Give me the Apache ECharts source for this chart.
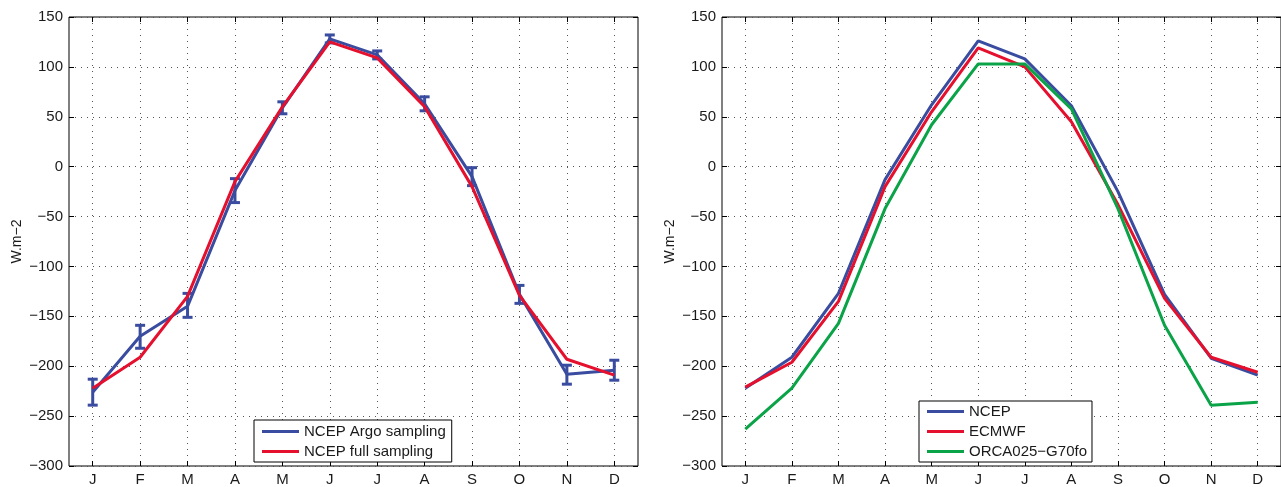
<!DOCTYPE html>
<html>
<head>
<meta charset="utf-8">
<script src="https://cdn.jsdelivr.net/npm/echarts@6/dist/echarts.min.js"></script>
<style>
html,body{margin:0;padding:0;background:#fff;}
#chart{width:1281px;height:487px;}
</style>
</head>
<body>
<div id="chart"></div>
<script>
// ---- data ----
const months = ['J','F','M','A','M','J','J','A','S','O','N','D'];
const yTicks = [-300, -250, -200, -150, -100, -50, 0, 50, 100, 150];

// left panel
const argoVal  = [-226, -170, -140, -24, 59, 128, 112, 63, -10, -128, -208, -204];
const argoLow  = [-239, -182, -151, -36, 53, 124, 108, 56, -19, -137, -218, -214];
const argoHigh = [-213, -159, -127, -12, 65, 132, 116, 70, -1, -119, -199, -194];
const fullVal  = [-222, -191, -130, -15, 60, 125, 109, 60, -20, -129, -193, -209];

// right panel
const ncepVal  = [-222, -191, -127, -13, 62, 126, 108, 61, -25, -128, -192, -209];
const ecmwfVal = [-221, -196, -135, -20, 55, 119, 100, 45, -38, -132, -191, -206];
const orcaVal  = [-263, -222, -157, -42, 42, 103, 103, 58, -42, -159, -239, -236];

const names = {
  argo: 'NCEP Argo sampling',
  full: 'NCEP full sampling',
  ncep: 'NCEP',
  ecmwf: 'ECMWF',
  orca: 'ORCA025\u2212G70fo'
};

// ---- styling ----
const BLUE = '#3a4c9f', RED = '#e5102d', GREEN = '#0aa347';
const FONT = 'Liberation Sans, Arial, Helvetica, sans-serif';
const TXT = '#1a1a1a';
const yMin = yTicks[0], yMax = yTicks[yTicks.length - 1], yStep = yTicks[1] - yTicks[0];

const dotted = {show: true, lineStyle: {color: '#555', width: 1, type: [1, 5]}};

function xAxes(gridIndex) {
  return [
    {
      type: 'category', gridIndex, position: 'bottom', data: months, boundaryGap: true,
      axisLine: {show: false, onZero: false},
      axisTick: {show: true, inside: true, length: 5, alignWithLabel: true, lineStyle: {color: '#000'}},
      axisLabel: {color: TXT, fontFamily: FONT, fontSize: 15, margin: 6, interval: 0},
      splitLine: Object.assign({alignWithLabel: true, interval: 0}, dotted)
    },
    {
      type: 'category', gridIndex, position: 'top', data: months, boundaryGap: true,
      axisLine: {show: false, onZero: false},
      axisTick: {show: true, inside: true, length: 5, alignWithLabel: true, lineStyle: {color: '#000'}},
      axisLabel: {show: false},
      splitLine: {show: false}
    }
  ];
}
function yAxes(gridIndex) {
  return [
    {
      type: 'value', gridIndex, position: 'left', min: yMin, max: yMax, interval: yStep,
      name: 'W.m\u22122', nameLocation: 'middle', nameGap: 45,
      nameTextStyle: {color: TXT, fontFamily: FONT, fontSize: 14},
      axisLine: {show: false, onZero: false},
      axisTick: {show: true, inside: true, length: 5, lineStyle: {color: '#000'}},
      axisLabel: {color: TXT, fontFamily: FONT, fontSize: 15, margin: 6,
        formatter: v => String(v).replace('-', '\u2212')},
      splitLine: dotted
    },
    {
      type: 'value', gridIndex, position: 'right', min: yMin, max: yMax, interval: yStep,
      axisLine: {show: false, onZero: false},
      axisTick: {show: true, inside: true, length: 5, lineStyle: {color: '#000'}},
      axisLabel: {show: false},
      splitLine: {show: false}
    }
  ];
}

function lineSeries(name, data, color, xi, yi, z) {
  return {
    type: 'line', name, data, xAxisIndex: xi, yAxisIndex: yi,
    showSymbol: false, symbol: 'none', z,
    lineStyle: {color, width: 3}, itemStyle: {color},
    animation: false
  };
}

const errData = months.map((m, i) => [i, argoLow[i], argoHigh[i]]);

const legendCommon = {
  orient: 'vertical', icon: 'rect', itemWidth: 37, itemHeight: 3, itemGap: 3,
  itemTextGap: 6,
  backgroundColor: '#fff', borderColor: '#000', borderWidth: 1,
  textStyle: {color: TXT, fontFamily: FONT, fontSize: 15, lineHeight: 17},
  selectedMode: false
};

const option = {
  animation: false,
  backgroundColor: '#fff',
  grid: [
    {left: 69, top: 17, width: 569, height: 451, show: true, borderColor: '#000', borderWidth: 1, backgroundColor: 'transparent'},
    {left: 722, top: 17, width: 569, height: 451, show: true, borderColor: '#000', borderWidth: 1, backgroundColor: 'transparent'}
  ],
  xAxis: [...xAxes(0), ...xAxes(1)],
  yAxis: [...yAxes(0), ...yAxes(1)],
  legend: [
    Object.assign({}, legendCommon, {
      data: [names.argo, names.full], left: 254, top: 420, padding: [3, 6, 2, 8]
    }),
    Object.assign({}, legendCommon, {
      data: [names.ncep, names.ecmwf, names.orca], left: 919, top: 401, padding: [2, 5, 2, 8]
    })
  ],
  series: [
    lineSeries(names.argo, argoVal, BLUE, 0, 0, 2),
    {
      type: 'custom', name: 'argoErr', xAxisIndex: 0, yAxisIndex: 0, z: 3,
      data: errData,
      encode: {x: 0, y: [1, 2]},
      renderItem: function (params, api) {
        const i = api.value(0);
        const lo = api.coord([i, api.value(1)]);
        const hi = api.coord([i, api.value(2)]);
        const hw = 5;
        const st = {stroke: BLUE, lineWidth: 3};
        return {
          type: 'group',
          children: [
            {type: 'line', shape: {x1: lo[0], y1: lo[1], x2: hi[0], y2: hi[1]}, style: st},
            {type: 'line', shape: {x1: lo[0] - hw, y1: lo[1], x2: lo[0] + hw, y2: lo[1]}, style: st},
            {type: 'line', shape: {x1: hi[0] - hw, y1: hi[1], x2: hi[0] + hw, y2: hi[1]}, style: st}
          ]
        };
      },
      animation: false
    },
    lineSeries(names.full, fullVal, RED, 0, 0, 4),
    lineSeries(names.ncep, ncepVal, BLUE, 2, 2, 2),
    lineSeries(names.ecmwf, ecmwfVal, RED, 2, 2, 3),
    lineSeries(names.orca, orcaVal, GREEN, 2, 2, 4)
  ]
};

const chart = echarts.init(document.getElementById('chart'), null, {renderer: 'canvas'});
chart.setOption(option);
</script>
</body>
</html>
